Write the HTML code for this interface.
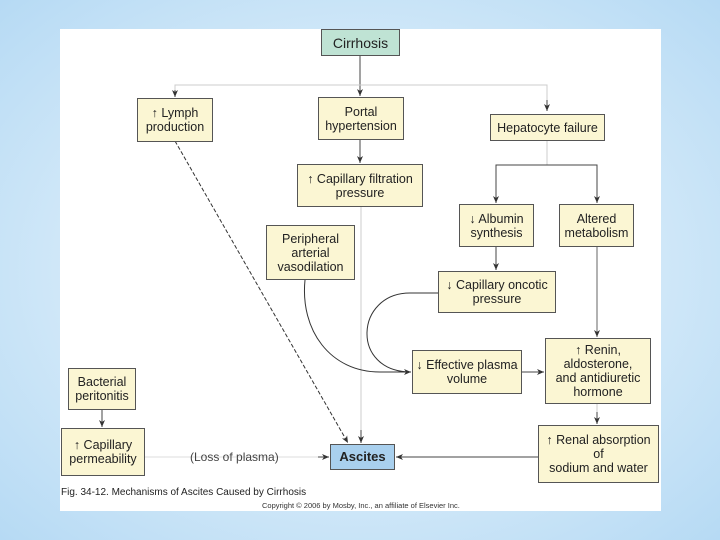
<!DOCTYPE html>
<html><head><style>
body{margin:0;width:720px;height:540px;overflow:hidden;background:radial-gradient(ellipse at center,#eaf5fd 0%,#cfe7f8 60%,#b6daf4 100%);font-family:"Liberation Sans",sans-serif}
#p{position:absolute;left:60px;top:29px;width:601px;height:482px;background:#fff}
.b{position:absolute;background:#fbf6d3;border:1px solid #555;box-sizing:border-box;display:flex;align-items:center;justify-content:center;text-align:center;font-size:12.5px;line-height:14px;color:#222}
svg{position:absolute;left:0;top:0}
</style></head><body>
<div id="p"></div>
<svg width="720" height="540">
<defs><marker id="a" markerWidth="8" markerHeight="8" refX="7" refY="4" orient="auto" markerUnits="userSpaceOnUse"><path d="M0,1 L7,4 L0,7 L2,4Z" fill="#333"/></marker></defs>
<g fill="none" stroke-width="1">
<line x1="360" y1="56" x2="360" y2="96" stroke="#444" marker-end="url(#a)"/>
<polyline points="175,96 175,85 547,85 547,108" stroke="#ccc"/>
<line x1="175" y1="90" x2="175" y2="97" stroke="#444" marker-end="url(#a)"/>
<line x1="547" y1="100" x2="547" y2="111" stroke="#444" marker-end="url(#a)"/>
<line x1="360" y1="140" x2="360" y2="163" stroke="#444" marker-end="url(#a)"/>
<line x1="547" y1="141" x2="547" y2="165" stroke="#ccc"/>
<polyline points="496,203 496,165 597,165 597,203" stroke="#444" marker-end="url(#a)"/>
<line x1="496" y1="190" x2="496" y2="203" stroke="#444" marker-end="url(#a)"/>
<line x1="496" y1="246" x2="496" y2="270" stroke="#444" marker-end="url(#a)"/>
<line x1="597" y1="247" x2="597" y2="337" stroke="#666" marker-end="url(#a)"/>
<line x1="361" y1="206" x2="361" y2="443" stroke="#ccc"/>
<line x1="361" y1="430" x2="361" y2="443" stroke="#444" marker-end="url(#a)"/>
<line x1="175" y1="141" x2="348" y2="443" stroke="#333" stroke-dasharray="4,2" marker-end="url(#a)"/>
<path d="M305,280 C300,330 330,372 380,372 L411,372" stroke="#333" marker-end="url(#a)"/>
<path d="M438,293 L410,293 C355,293 350,372 411,372" stroke="#333"/>
<line x1="522" y1="372" x2="544" y2="372" stroke="#444" marker-end="url(#a)"/>
<line x1="597" y1="404" x2="597" y2="424" stroke="#ccc"/>
<line x1="597" y1="412" x2="597" y2="424" stroke="#444" marker-end="url(#a)"/>
<line x1="538" y1="457" x2="396" y2="457" stroke="#444" marker-end="url(#a)"/>
<line x1="102" y1="410" x2="102" y2="427" stroke="#444" marker-end="url(#a)"/>
<line x1="145" y1="457" x2="329" y2="457" stroke="#ddd"/>
<line x1="318" y1="457" x2="329" y2="457" stroke="#444" marker-end="url(#a)"/>
</g>
</svg>
<div class="b" style="left:321px;top:29px;width:79px;height:27px;background:#bfe3d4;font-size:14px">Cirrhosis</div>
<div class="b" style="left:137px;top:98px;width:76px;height:44px">↑ Lymph<br>production</div>
<div class="b" style="left:318px;top:97px;width:86px;height:43px">Portal<br>hypertension</div>
<div class="b" style="left:490px;top:114px;width:115px;height:27px">Hepatocyte failure</div>
<div class="b" style="left:297px;top:164px;width:126px;height:43px">↑ Capillary filtration<br>pressure</div>
<div class="b" style="left:459px;top:204px;width:75px;height:43px">↓ Albumin<br>synthesis</div>
<div class="b" style="left:559px;top:204px;width:75px;height:43px">Altered<br>metabolism</div>
<div class="b" style="left:266px;top:225px;width:89px;height:55px">Peripheral<br>arterial<br>vasodilation</div>
<div class="b" style="left:438px;top:271px;width:118px;height:42px">↓ Capillary oncotic<br>pressure</div>
<div class="b" style="left:412px;top:350px;width:110px;height:44px">↓ Effective plasma<br>volume</div>
<div class="b" style="left:545px;top:338px;width:106px;height:66px">↑ Renin,<br>aldosterone,<br>and antidiuretic<br>hormone</div>
<div class="b" style="left:68px;top:368px;width:68px;height:42px">Bacterial<br>peritonitis</div>
<div class="b" style="left:61px;top:428px;width:84px;height:48px">↑ Capillary<br>permeability</div>
<div class="b" style="left:330px;top:444px;width:65px;height:26px;background:#a9d0ee;font-weight:bold;font-size:13px">Ascites</div>
<div class="b" style="left:538px;top:425px;width:121px;height:58px">↑ Renal absorption<br>of<br>sodium and water</div>
<div style="position:absolute;left:190px;top:450px;font-size:12px;color:#444">(Loss of plasma)</div>
<div style="position:absolute;left:61px;top:487px;font-size:10px;color:#222">Fig. 34-12. Mechanisms of Ascites Caused by Cirrhosis</div>
<div style="position:absolute;left:262px;top:501px;font-size:7.5px;color:#333">Copyright © 2006 by Mosby, Inc., an affiliate of Elsevier Inc.</div>
</body></html>
